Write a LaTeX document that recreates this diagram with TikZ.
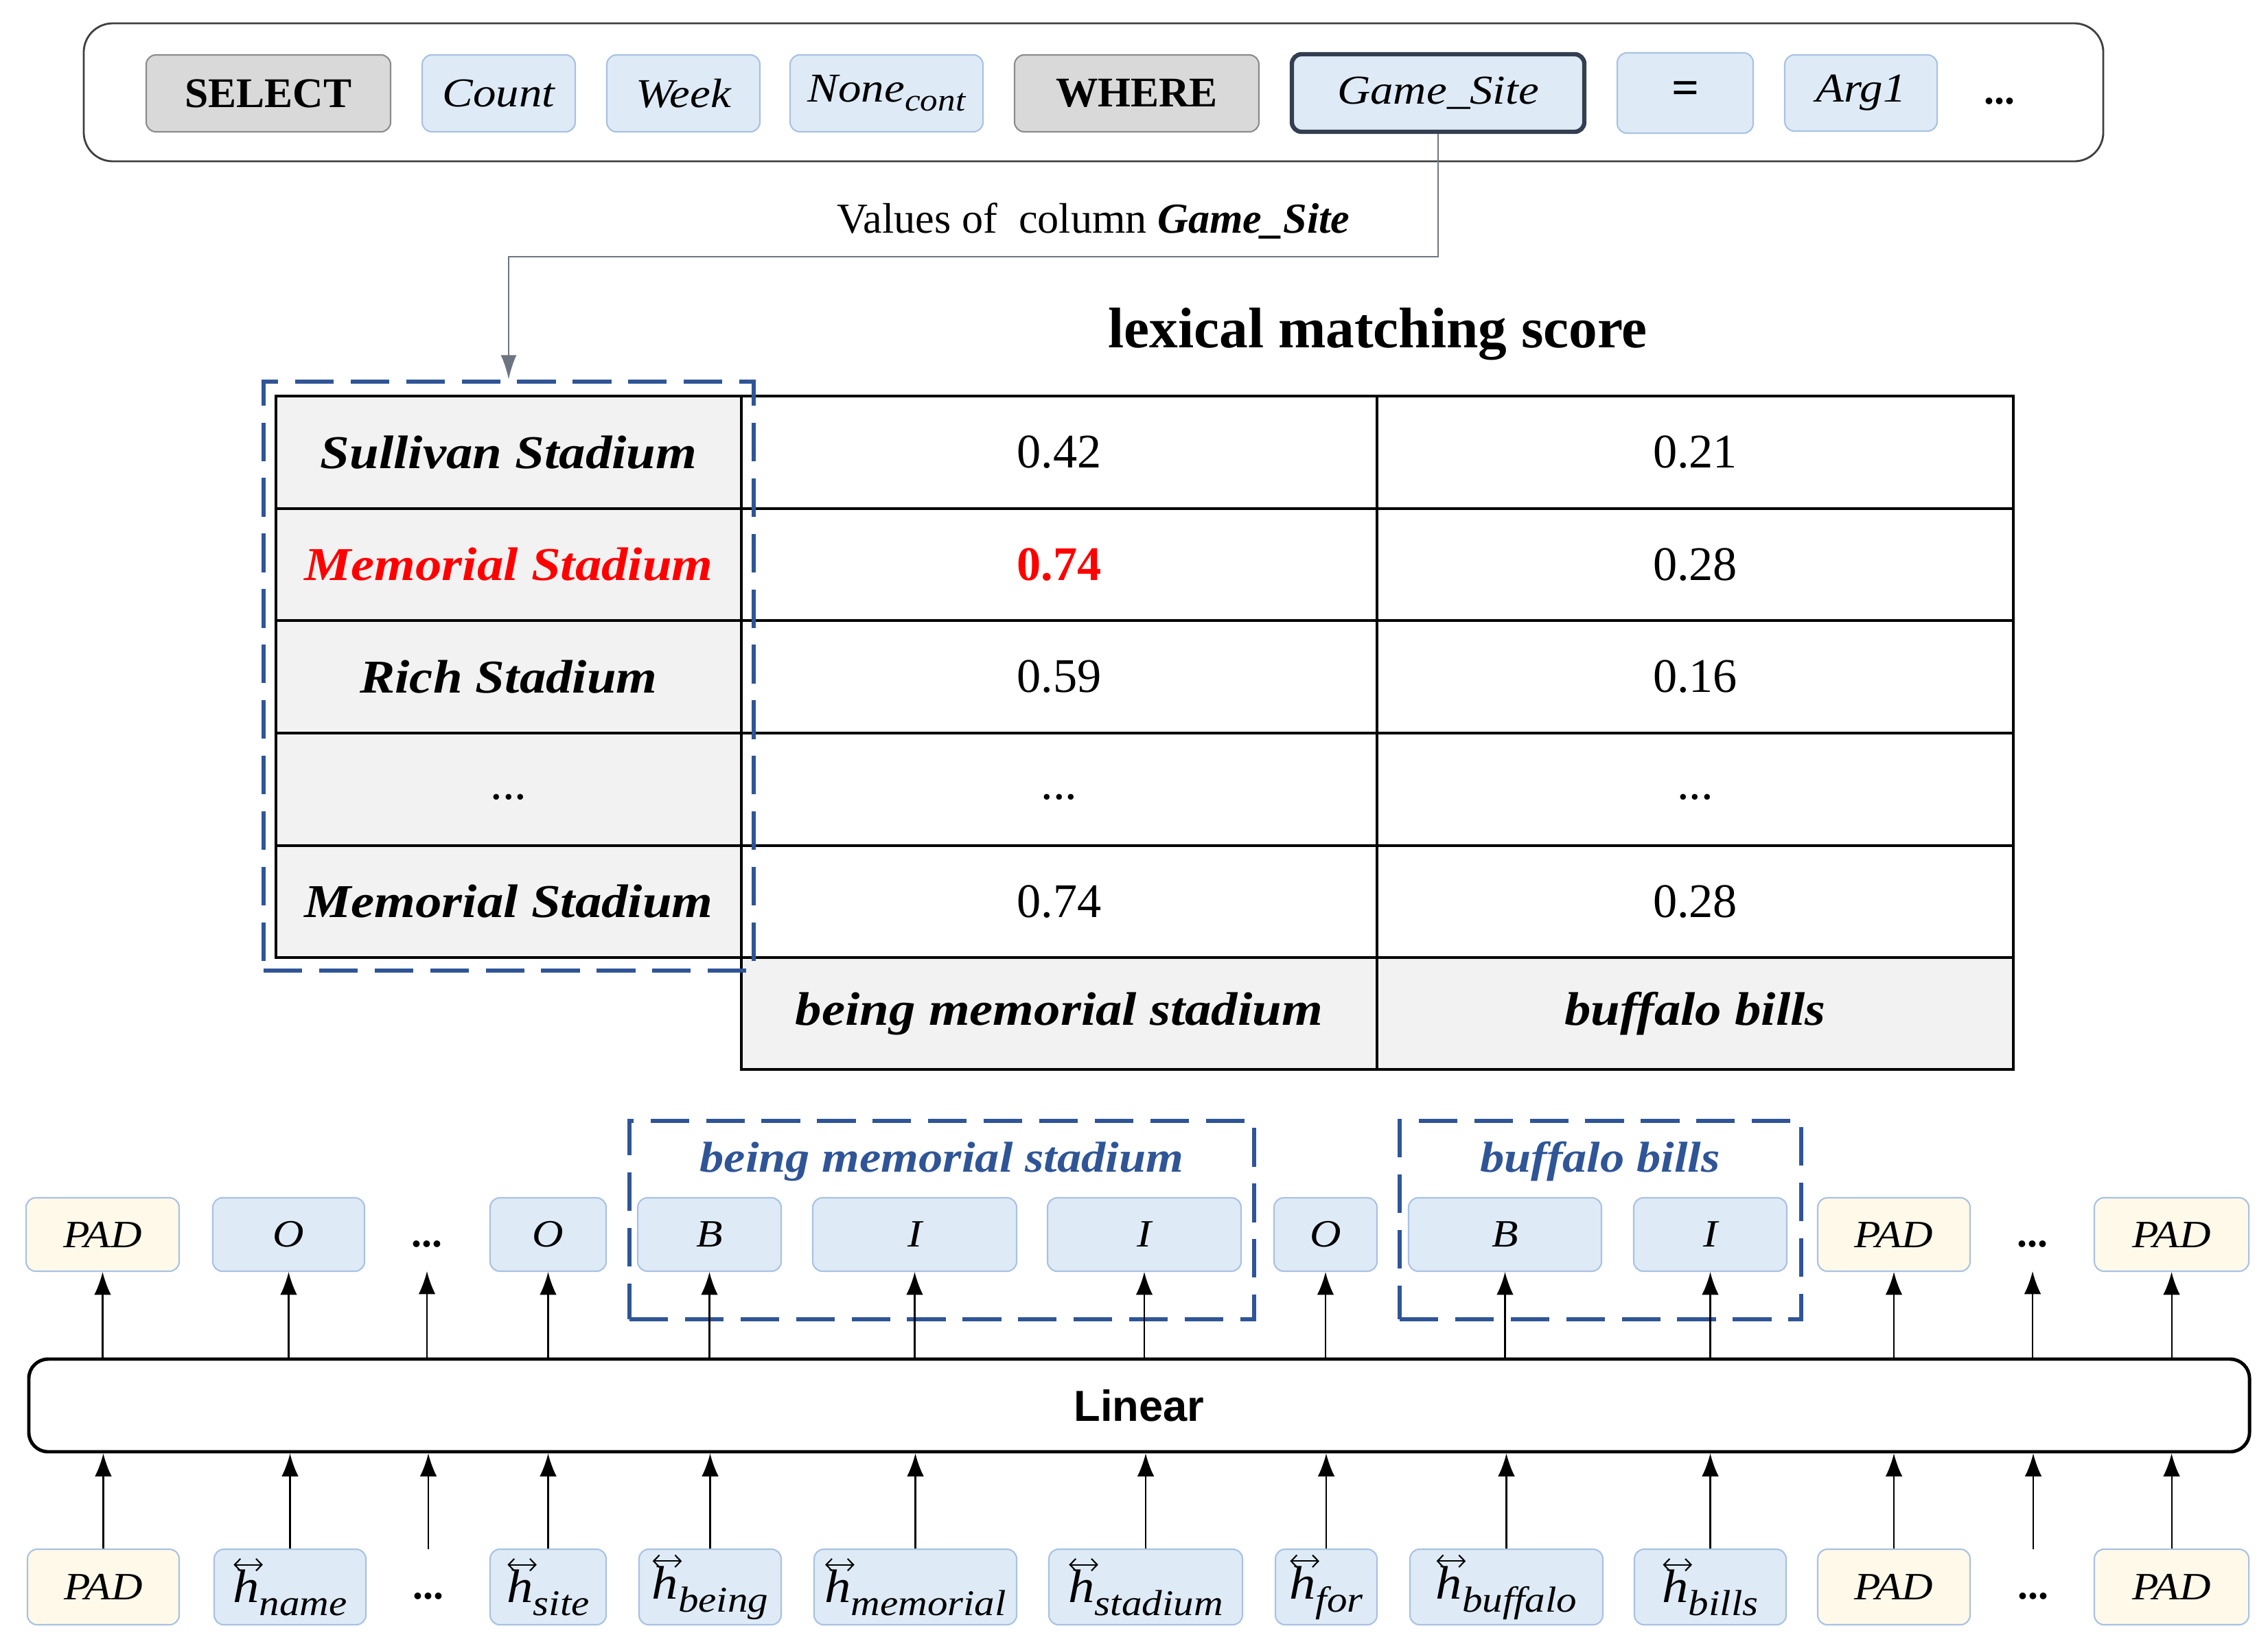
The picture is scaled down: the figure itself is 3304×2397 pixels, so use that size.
\documentclass[tikz,border=0pt]{standalone}
\usepackage{fontspec}
\setmainfont{Liberation Serif}
\newfontfamily\cm[FakeStretch=1.12]{Liberation Serif}
\newfontfamily\lsans{Liberation Sans}
\usetikzlibrary{arrows.meta}
\definecolor{tokblue}{HTML}{DEEBF7}
\definecolor{tokedge}{HTML}{A9C2E2}
\definecolor{cream}{HTML}{FFF9EA}
\definecolor{graytok}{HTML}{D9D9D9}
\definecolor{grayedge}{HTML}{8C8C8C}
\definecolor{darkedge}{HTML}{333F50}
\definecolor{cellgray}{HTML}{F2F2F2}
\definecolor{dashblue}{HTML}{2F5597}
\definecolor{connector}{HTML}{6E7582}
\newcommand\fs[1]{\fontsize{#1}{#1}\selectfont}
\newcommand\hvec[1]{\rlap{\raisebox{0.8em}{\tikz[baseline=0pt]\draw[line width=0.6pt,
  {Straight Barb[length=2.4pt,width=5pt]}-{Straight Barb[length=2.4pt,width=5pt]}]
  (0pt,0pt) -- (0.62em,0pt);}}h\raisebox{-0.28em}{\fs{15}#1}}
\tikzset{
  bx/.style n args={4}{at={({(#1+#3)/2},{(#2+#4)/2})},
     minimum width={(#3-#1)*0.01cm}, minimum height={(#4-#2)*0.01cm}},
  box/.style={inner sep=0pt, rounded corners=4pt},
  bluetok/.style={box, fill=tokblue, draw=tokedge, line width=0.6pt},
  padtok/.style={box, fill=cream, draw=tokedge, line width=0.6pt},
  graytoken/.style={box, fill=graytok, draw=grayedge, line width=0.6pt},
  kw/.style={font=\fs{17.5}\bfseries},
  tokit/.style={font=\cm\fs{17}\itshape},
  labit/.style={font=\cm\fs{16}\itshape},
  hit/.style={font=\cm\fs{19.5}\itshape},
  sqlframe/.style={draw=black!75, line width=0.8pt, rounded corners=12pt, inner sep=0pt},
  cell/.style={draw=black, line width=1.2pt, inner sep=0pt},
  namecell/.style={cell, fill=cellgray, font=\cm\fs{19.5}\bfseries\itshape},
  numcell/.style={cell, font=\fs{20}},
  dbx/.style={draw=dashblue, line width=1.9pt, dash pattern=on 16pt off 7pt, inner sep=0pt},
  bluelab/.style={text=dashblue, font=\cm\fs{17.9}\bfseries\itshape},
  arr/.style={-{Latex[length=9.5pt,width=7pt]}, line width=0.6pt},
  conn/.style={draw=connector, line width=0.7pt, -{Latex[length=10pt,width=6.5pt]}},
  dotsnode/.style={font=\fs{17}\bfseries, inner sep=0pt}
}
\begin{document}
\begin{tikzpicture}[x=0.01cm,y=-0.01cm]
\useasboundingbox (0,0) rectangle (3304,2397);

% ---------- SQL sketch ----------
\node[sqlframe, bx={122}{34}{3064}{235}] (sql) {};
\node[graytoken, kw, bx={213}{80}{569}{192}] (sel) {SELECT};
\node[bluetok, tokit, bx={615}{80}{838}{192}] (cnt) {Count};
\node[bluetok, tokit, bx={884}{80}{1107}{192}] (wk) {Week};
\node[bluetok, tokit, bx={1151}{80}{1432}{192}] (none) {None\raisebox{-0.22em}{\fs{13}cont}};
\node[graytoken, kw, bx={1478}{80}{1834}{192}] (whr) {WHERE};
\node[bluetok, tokit, draw=darkedge, line width=1.8pt, bx={1882}{79}{2308}{192}] (gs) {Game\_Site};
\node[bluetok, font=\fs{20}\bfseries, bx={2356}{77}{2554}{194}] (eq) {=};
\node[bluetok, tokit, bx={2600}{80}{2822}{191}] (arg) {Arg1};
\node[dotsnode] (sqldots) at (2913,140) {\strut...};

\node[font=\fs{17.7}] (vals) at (1593,322) {Values of\ \ column \textbf{\textit{Game\_Site}}};
\node[font=\fs{23.7}\bfseries] (lex) at (2007,487) {lexical matching score};

% ---------- table ----------
\node[namecell, bx={402}{577}{1080}{741}] (c11) {Sullivan Stadium};
\node[numcell, bx={1080}{577}{2006}{741}] (c12) {0.42};
\node[numcell, bx={2006}{577}{2933}{741}] (c13) {0.21};
\node[namecell, text=red, bx={402}{741}{1080}{904}] (c21) {Memorial Stadium};
\node[numcell, text=red, font=\fs{20}\bfseries, bx={1080}{741}{2006}{904}] (c22) {0.74};
\node[numcell, bx={2006}{741}{2933}{904}] (c23) {0.28};
\node[namecell, bx={402}{904}{1080}{1068}] (c31) {Rich Stadium};
\node[numcell, bx={1080}{904}{2006}{1068}] (c32) {0.59};
\node[numcell, bx={2006}{904}{2933}{1068}] (c33) {0.16};
\node[namecell, font=\fs{20}, bx={402}{1068}{1080}{1232}] (c41) {\strut...};
\node[numcell, bx={1080}{1068}{2006}{1232}] (c42) {\strut...};
\node[numcell, bx={2006}{1068}{2933}{1232}] (c43) {\strut...};
\node[namecell, bx={402}{1232}{1080}{1395}] (c51) {Memorial Stadium};
\node[numcell, bx={1080}{1232}{2006}{1395}] (c52) {0.74};
\node[numcell, bx={2006}{1232}{2933}{1395}] (c53) {0.28};
\node[namecell, bx={1080}{1395}{2006}{1558}] (c62) {being memorial stadium};
\node[namecell, bx={2006}{1395}{2933}{1558}] (c63) {buffalo bills};

\node[dbx, bx={384}{556}{1098}{1414}] (dbox) {};
\draw[conn] (gs.south) -- ++(0,179) -| (dbox.north);

% ---------- output labels ----------
\node[dbx, bx={917}{1633}{1827}{1922}] (bd1) {};
\node[dbx, bx={2039}{1633}{2624}{1922}] (bd2) {};
\node[bluelab] (bl1) at (1372,1692) {being memorial stadium};
\node[bluelab] (bl2) at (2331,1692) {buffalo bills};

\node[padtok, labit, bx={38}{1745}{261}{1852}] (oP1) {PAD};
\node[bluetok, labit, bx={310}{1745}{531}{1852}] (oO1) {O};
\node[dotsnode] (od1t) at (622,1805) {\strut...};
\coordinate (od1) at (622,1852);
\node[bluetok, labit, bx={714}{1745}{883}{1852}] (oO2) {O};
\node[bluetok, labit, bx={929}{1745}{1138}{1852}] (oB1) {B};
\node[bluetok, labit, bx={1184}{1745}{1481}{1852}] (oI1) {I};
\node[bluetok, labit, bx={1526}{1745}{1808}{1852}] (oI2) {I};
\node[bluetok, labit, bx={1856}{1745}{2006}{1852}] (oO3) {O};
\node[bluetok, labit, bx={2052}{1745}{2333}{1852}] (oB2) {B};
\node[bluetok, labit, bx={2380}{1745}{2603}{1852}] (oI3) {I};
\node[padtok, labit, bx={2648}{1745}{2870}{1852}] (oP2) {PAD};
\node[dotsnode] (od2t) at (2961,1805) {\strut...};
\coordinate (od2) at (2961,1852);
\node[padtok, labit, bx={3051}{1745}{3276}{1852}] (oP3) {PAD};

% ---------- Linear ----------
\node[draw=black, line width=1.4pt, rounded corners=8pt, inner sep=0pt,
      font=\lsans\bfseries\fs{18}, bx={42}{1980}{3277}{2115}] (lin) {Linear};

% ---------- inputs ----------
\node[padtok, labit, bx={40}{2257}{261}{2367}] (iP1) {PAD};
\node[bluetok, hit, bx={312}{2257}{533}{2367}] (ih1) {\hvec{name}};
\node[dotsnode] (id1t) at (624,2318) {\strut...};
\coordinate (id1) at (624,2257);
\node[bluetok, hit, bx={714}{2257}{883}{2367}] (ih2) {\hvec{site}};
\node[bluetok, hit, bx={931}{2257}{1138}{2367}] (ih3) {\hvec{being}};
\node[bluetok, hit, bx={1186}{2257}{1481}{2367}] (ih4) {\hvec{memorial}};
\node[bluetok, hit, bx={1528}{2257}{1810}{2367}] (ih5) {\hvec{stadium}};
\node[bluetok, hit, bx={1858}{2257}{2006}{2367}] (ih6) {\hvec{for}};
\node[bluetok, hit, bx={2054}{2257}{2335}{2367}] (ih7) {\hvec{buffalo}};
\node[bluetok, hit, bx={2381}{2257}{2602}{2367}] (ih8) {\hvec{bills}};
\node[padtok, labit, bx={2648}{2257}{2870}{2367}] (iP2) {PAD};
\node[dotsnode] (id2t) at (2962,2318) {\strut...};
\coordinate (id2) at (2962,2257);
\node[padtok, labit, bx={3051}{2257}{3276}{2367}] (iP3) {PAD};

% ---------- arrows ----------
\foreach \n in {oP1,oO1,oO2,oB1,oI1,oI2,oO3,oB2,oI3,oP2,oP3}
  \draw[arr] (\n.south |- lin.north) -- (\n.south);
\foreach \n in {od1,od2}
  \draw[arr] (\n |- lin.north) -- (\n);
\foreach \n in {iP1,ih1,ih2,ih3,ih4,ih5,ih6,ih7,ih8,iP2,iP3}
  \draw[arr] (\n.north) -- (\n.north |- lin.south);
\foreach \n in {id1,id2}
  \draw[arr] (\n) -- (\n |- lin.south);
\end{tikzpicture}
\end{document}
